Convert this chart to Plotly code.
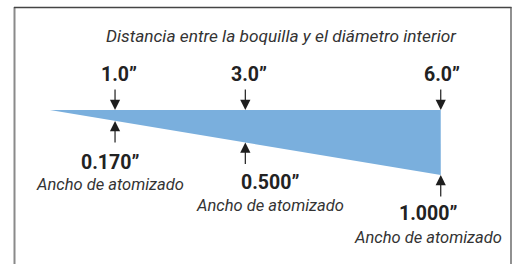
import plotly.graph_objects as go

# ---- data ----
distances = [1.0, 3.0, 6.0]            # nozzle-to-target distance (in)
spray_widths = [0.170, 0.500, 1.000]   # spray width (in)
distance_labels = ["1.0\u201d", "3.0\u201d", "6.0\u201d"]
width_labels = ["0.170\u201d", "0.500\u201d", "1.000\u201d"]
width_caption = "Ancho de atomizado"
title_text = "Distancia entre la boquilla y el diámetro interior"
nozzle_position = 0.0

# ---- layout / style ----
W, H = 515, 264
FONT = "Roboto, Liberation Sans, sans-serif"
FILL = "#7aafdd"
ARROW = "#1e1e1e"
px_per_in_x = 65.14
x0_px = 49.9
px_per_in_y = 65.0
y0_px = 110.0
top_label_dx = [4, 4, 1]
bottom_label_dx = [-5, 25, -13]
bottom_value_dy = [41, 40, 38]
caption_dy = [63, 63, 62]


def px(xp):
    return xp / W


def py(yp):
    return 1 - yp / H


fig = go.Figure()

# spray fan polygon built from data
poly_x = [nozzle_position] + [distances[-1]] + distances[::-1] + [nozzle_position]
poly_y = [0, 0] + [-w for w in spray_widths[::-1]] + [0]
fig.add_trace(go.Scatter(
    x=poly_x, y=poly_y, mode="lines", fill="toself",
    fillcolor=FILL, line=dict(width=0, color=FILL), hoverinfo="skip",
    showlegend=False))

annotations = []
for i, (d, w) in enumerate(zip(distances, spray_widths)):
    annotations.append(dict(
        x=d, y=0, xref="x", yref="y", text="", showarrow=True,
        ax=0, ay=-22, axref="pixel", ayref="pixel",
        arrowhead=2, arrowsize=1.7, arrowwidth=1.2, arrowcolor=ARROW))
    annotations.append(dict(
        x=d, y=0, xref="x", yref="y", text="<b>%s</b>" % distance_labels[i],
        showarrow=False, xanchor="center", yanchor="middle",
        xshift=top_label_dx[i], yshift=35.5,
        font=dict(family=FONT, size=19.5, color="#222")))
    annotations.append(dict(
        x=d, y=-w, xref="x", yref="y", text="", showarrow=True,
        ax=0, ay=23, axref="pixel", ayref="pixel",
        arrowhead=2, arrowsize=1.7, arrowwidth=1.2, arrowcolor=ARROW))
    annotations.append(dict(
        x=d, y=-w, xref="x", yref="y", text="<b>%s</b>" % width_labels[i],
        showarrow=False, xanchor="center", yanchor="middle",
        xshift=bottom_label_dx[i], yshift=-bottom_value_dy[i],
        font=dict(family=FONT, size=19.5, color="#222")))
    annotations.append(dict(
        x=d, y=-w, xref="x", yref="y", text="<i>%s</i>" % width_caption,
        showarrow=False, xanchor="center", yanchor="middle",
        xshift=bottom_label_dx[i], yshift=-caption_dy[i],
        font=dict(family=FONT, size=16.5, color="#333")))

annotations.append(dict(
    x=px(281), y=py(36), xref="paper", yref="paper",
    text="<i>%s</i>" % title_text, showarrow=False,
    xanchor="center", yanchor="middle",
    font=dict(family=FONT, size=17.3, color="#333")))

shapes = [
    dict(type="line", xref="paper", yref="paper",
         x0=px(14.5), x1=px(14.5), y0=py(7), y1=-0.1,
         line=dict(color="#8a8a8a", width=2)),
    dict(type="line", xref="paper", yref="paper",
         x0=px(14), x1=px(511.5), y0=py(7.5), y1=py(7.5),
         line=dict(color="#444", width=1.5)),
    dict(type="line", xref="paper", yref="paper",
         x0=px(511), x1=px(511), y0=py(7), y1=-0.1,
         line=dict(color="#555", width=1.3)),
]

fig.update_layout(
    width=W, height=H, margin=dict(l=0, r=0, t=0, b=0),
    paper_bgcolor="white", plot_bgcolor="white",
    xaxis=dict(range=[-x0_px / px_per_in_x, (W - x0_px) / px_per_in_x],
               visible=False, fixedrange=True),
    yaxis=dict(range=[-(H - y0_px) / px_per_in_y, y0_px / px_per_in_y],
               visible=False, fixedrange=True),
    annotations=annotations, shapes=shapes, showlegend=False)

fig.write_html(
    "out.html", config={"displayModeBar": False},
    post_script="document.body.style.margin='0';"
                "document.body.style.overflow='hidden';")
